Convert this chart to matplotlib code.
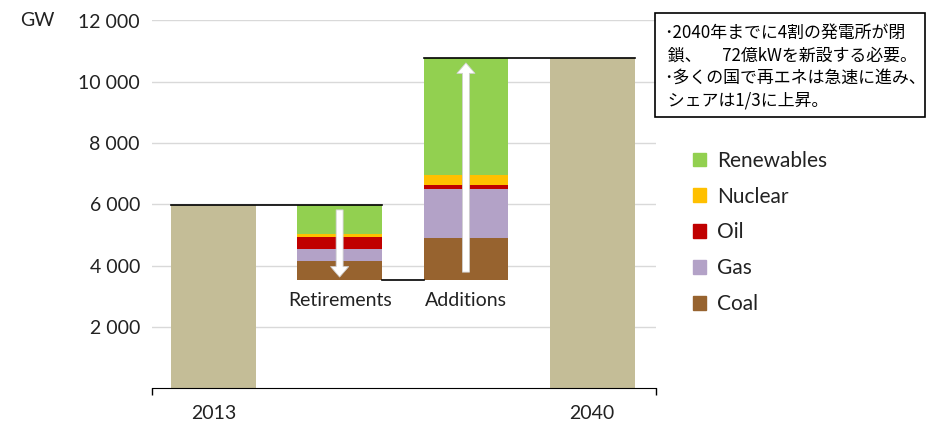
import matplotlib.pyplot as plt
from matplotlib.patches import Patch, Rectangle

plt.rcParams['font.family'] = ['Lato', 'DejaVu Sans']

# installed capacity, GW
fuels = ['Coal', 'Gas', 'Oil', 'Nuclear', 'Renewables']
colors = ['#97632F', '#B3A2C7', '#C00000', '#FFC000', '#92D050']
total_2013 = 5970
retirements = [610, 410, 390, 80, 950]
additions = [1360, 1600, 130, 335, 3810]
total_2040 = total_2013 - sum(retirements) + sum(additions)
base = total_2013 - sum(retirements)

positions = [0, 1, 2, 3]
year_labels = ['2013', '2040']
flow_labels = ['Retirements', 'Additions']
yticks = [2000, 4000, 6000, 8000, 10000, 12000]

note_lines = ['･2040年までに4割の発電所が閉',
              ' 鎖、　 72億kWを新設する必要。',
              '･多くの国で再エネは急速に進み、',
              ' シェアは1/3に上昇。']

text_color = '#222222'
tan = '#C4BD97'
w = 0.67
fs = 14

fig = plt.figure(figsize=(9.28, 4.23), dpi=100)
ax = fig.add_axes([151.7 / 928, 1 - 388.3 / 423, (656 - 151.7) / 928, (388.3 - 20.5) / 423])

ax.bar(positions[0], total_2013, width=w, color=tan, zorder=2)
ax.bar(positions[3], total_2040, width=w, color=tan, zorder=2)

bottom_r = base
bottom_a = base
for fuel, c, r, a in zip(fuels, colors, retirements, additions):
    ax.bar(positions[1], r, width=w, bottom=bottom_r, color=c, zorder=2)
    ax.bar(positions[2], a, width=w, bottom=bottom_a, color=c, zorder=2)
    bottom_r += r
    bottom_a += a

# connector lines between the steps
ax.plot([positions[0] - w / 2, positions[1] + w / 2], [total_2013, total_2013], color='black', lw=1.2, zorder=3)
ax.plot([positions[1] + w / 2, positions[2] - w / 2], [base, base], color='black', lw=1.2, zorder=3)
ax.plot([positions[2] - w / 2, positions[3] + w / 2], [total_2040, total_2040], color='black', lw=1.2, zorder=3)

# white flow arrows
arrow = dict(arrowstyle='simple,head_length=0.75,head_width=1.3,tail_width=0.5',
             mutation_scale=10, fc='white', ec='#D0D0D0', lw=0.6, shrinkA=0, shrinkB=0)
ax.annotate('', xy=(positions[1], base + 100), xytext=(positions[1], total_2013 - 150),
            arrowprops=arrow, zorder=4)
ax.annotate('', xy=(positions[2], total_2040 - 150), xytext=(positions[2], base + 260),
            arrowprops=arrow, zorder=4)

for p, lab in zip(positions[1:3], flow_labels):
    ax.text(p, 2850, lab, ha='center', va='center', fontsize=fs, color=text_color)

ax.set_xlim(-0.488, 3.505)
ax.set_ylim(0, 12000)
ax.set_yticks(yticks)
ax.set_yticklabels([f'{v:,}'.replace(',', ' ') for v in yticks])
ax.tick_params(axis='y', length=0, pad=8.5, labelsize=fs, labelcolor=text_color)
ax.grid(axis='y', color='#D9D9D9', lw=1)
ax.set_axisbelow(True)

ax.set_xticks(ax.get_xlim())
ax.set_xticklabels([])
ax.tick_params(axis='x', which='major', length=5, width=1, color='black')
ax.set_xticks([positions[0], positions[3]], minor=True)
ax.set_xticklabels(year_labels, minor=True)
ax.tick_params(axis='x', which='minor', length=0, pad=12, labelsize=fs, labelcolor=text_color)

for s in ['left', 'right', 'top']:
    ax.spines[s].set_visible(False)
ax.spines['bottom'].set_color('black')

fig.text(20 / 928, 1 - 21 / 423, 'GW', ha='left', va='center', fontsize=fs, color=text_color)

handles = [Patch(color=c, label=f) for f, c in zip(fuels[::-1], colors[::-1])]
fig.legend(handles=handles, loc='upper left', bbox_to_anchor=(674 / 928, 1 - 132 / 423),
           frameon=False, fontsize=15, handlelength=0.63, handleheight=0.63,
           handletextpad=0.53, labelspacing=0.76, labelcolor=text_color)

# note box
fig.patches.append(Rectangle((655.5 / 928, 1 - 117 / 423), (925 - 655.5) / 928, (117 - 13) / 423,
                             transform=fig.transFigure, fill=False, ec='black', lw=1.2))
for i, line in enumerate(note_lines):
    fig.text(664 / 928, 1 - (33 + i * 22.5) / 423, line, ha='left', va='center', fontsize=12.2,
             family=['Noto Sans CJK JP', 'DejaVu Sans'], color='black')

fig.savefig('out.png', dpi=100)
